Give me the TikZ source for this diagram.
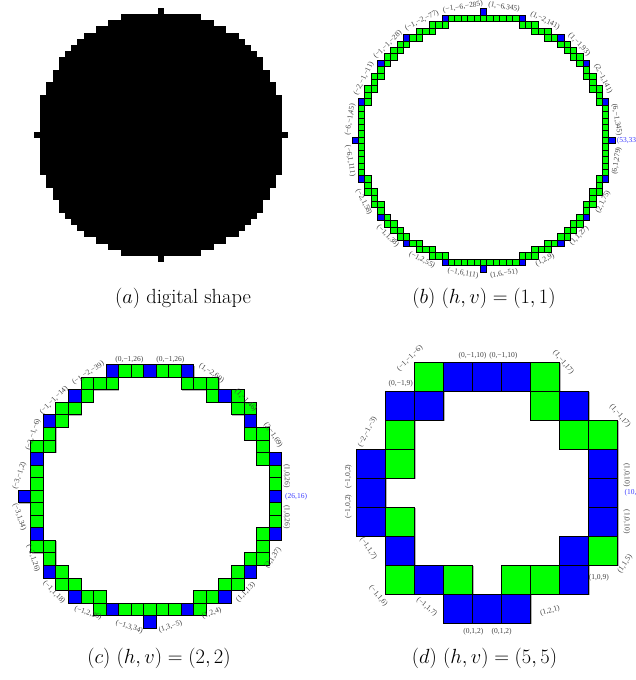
\RequirePackage{fix-cm}
\documentclass[tikz,border=0pt]{standalone}
\usepackage{fontspec}
\newfontfamily\labfont{Liberation Serif}
\usetikzlibrary{calc}
\definecolor{cg}{RGB}{0,255,0}
\definecolor{cb}{RGB}{0,0,255}
\definecolor{lb}{RGB}{60,60,255}
\newif\ifinside \newif\ifbd
\newcount\mycA \newcount\mycB \newcount\mycD \newcount\mycS \newcount\labcnt
% distance to centre (33) of a coarse cell #1 at scale #2
\def\mydist#1#2{\mycA=\numexpr(#2)*(#1)-33\relax \mycB=\numexpr\mycA+(#2)-1\relax
  \ifnum\mycA>0 \mycD=\mycA\else\ifnum\mycB<0 \mycD=-\mycB\else\mycD=0 \fi\fi}
\def\myisin#1#2#3{\mydist{#1}{#3}\mycS=\numexpr\mycD*\mycD\relax
  \mydist{#2}{#3}\advance\mycS by \numexpr\mycD*\mycD\relax
  \ifnum\mycS>400 \insidefalse\else\insidetrue\fi}
\def\myisbd#1#2#3{\bdfalse\myisin{#1}{#2}{#3}%
  \ifinside
    \myisin{#1-1}{#2-1}{#3}\ifinside\else\bdtrue\fi
    \myisin{#1-1}{#2}{#3}\ifinside\else\bdtrue\fi
    \myisin{#1-1}{#2+1}{#3}\ifinside\else\bdtrue\fi
    \myisin{#1}{#2-1}{#3}\ifinside\else\bdtrue\fi
    \myisin{#1}{#2+1}{#3}\ifinside\else\bdtrue\fi
    \myisin{#1+1}{#2-1}{#3}\ifinside\else\bdtrue\fi
    \myisin{#1+1}{#2}{#3}\ifinside\else\bdtrue\fi
    \myisin{#1+1}{#2+1}{#3}\ifinside\else\bdtrue\fi
  \fi}
\newcommand\bdcells[6]{%
  \foreach \ci in {#2,...,#3}{\foreach \cj in {#4,...,#5}{%
    \myisbd{\ci}{\cj}{#1}%
    \ifbd \path[#6] (\ci-0.5,\cj-0.5) rectangle (\ci+0.5,\cj+0.5);\fi}}}
\newcommand\seglab[6][]{%
  \global\advance\labcnt by 1
  \pgfmathsetmacro\mxa{(#2+#4)/2}%
  \pgfmathsetmacro\mya{(#3+#5)/2}%
  \pgfmathsetmacro\dxa{\mxa-\pcx}%
  \pgfmathsetmacro\dya{\mya-\pcy}%
  \pgfmathsetmacro\rra{sqrt(\dxa*\dxa+\dya*\dya)}%
  \pgfmathsetmacro\anga{atan2(#5-#3,#4-#2)}%
  \pgfmathsetmacro\anga{\anga>=89.9 ? \anga-180 : (\anga<-90.1 ? \anga+180 : \anga)}%
  \node[lab,rotate=\anga,#1] (lab\the\labcnt) at ({\mxa+\dxa/\rra*\poff},{\mya+\dya/\rra*\poff}) {#6};}
\tikzset{
  lab/.style={font=\labfont\fontsize{7.5}{8}\selectfont, text=black!75, inner sep=0pt},
  bluelab/.style={font=\labfont\fontsize{7.5}{8}\selectfont, text=lb, inner sep=0pt, anchor=west},
  captext/.style={font=\fontsize{20.5}{24}\selectfont, inner sep=0pt},
  gcell/.style={fill=cg, draw=black, line width=#1},
  bcell/.style={fill=cb, draw=black, line width=#1},
  shcell/.style={fill=black!30, xshift=#1, yshift=-#1},
}
\begin{document}
\begin{tikzpicture}[x=1pt,y=1pt]
\useasboundingbox (0,0) rectangle (636,680);
% (a) digital shape
\begin{scope}[shift={(161pt,545pt)},x=6.2pt,y=6.2pt]
  \foreach \yy in {-20,...,20}{
    \pgfmathtruncatemacro\hh{sqrt(400-(\yy)*(\yy)+0.01)}
    \fill (-\hh-0.5,\yy-0.52) rectangle (\hh+0.5,\yy+0.52);}
\end{scope}
\node[captext] (capa) at (183,382) {$(a)$ digital shape};
% (b)
\def\pcx{33}\def\pcy{33}\def\poff{1.28}
\begin{scope}[shift={(271.64pt,327.84pt)},x=6.42pt,y=6.42pt]
  \bdcells{1}{11}{55}{11}{55}{shcell=0.7pt}
  \bdcells{1}{11}{55}{11}{55}{gcell=0.5pt}
  \foreach \a/\b in {53/33,52/39,49/45,45/49,39/52,33/53,27/52,21/49,17/45,14/39,13/33,14/27,17/21,21/17,27/14,33/13,39/14,45/17,49/21,52/27}
    \path[bcell=0.5pt] (\a-0.5,\b-0.5) rectangle (\a+0.5,\b+0.5);
  \seglab{53}{33}{52}{39}{(6,−1,345)}
  \seglab{52}{39}{49}{45}{(2,−1,141)}
  \seglab{49}{45}{45}{49}{(1,−1,93)}
  \seglab{45}{49}{39}{52}{(1,−2,141)}
  \seglab{39}{52}{33}{53}{(1,−6,345)}
  \seglab{33}{53}{27}{52}{(−1,−6,−285)}
  \seglab{27}{52}{21}{49}{(−1,−2,−77)}
  \seglab{21}{49}{17}{45}{(−1,−1,−28)}
  \seglab{17}{45}{14}{39}{(−2,−1,−11)}
  \seglab{14}{39}{13}{33}{(−6,−1,45)}
  \seglab{13}{33}{14}{27}{(−6,1,111)}
  \seglab{14}{27}{17}{21}{(−2,1,58)}
  \seglab{17}{21}{21}{17}{(−1,1,38)}
  \seglab{21}{17}{27}{14}{(−1,2,55)}
  \seglab{27}{14}{33}{13}{(−1,6,111)}
  \seglab{33}{13}{39}{14}{(1,6,−51)}
  \seglab{39}{14}{45}{17}{(1,2,9)}
  \seglab{45}{17}{49}{21}{(1,1,27)}
  \seglab{49}{21}{52}{27}{(2,1,75)}
  \seglab{52}{27}{53}{33}{(6,1,279)}
  \node[bluelab,xshift=1.5pt] (startb) at (53.5,33) {(53,33)};
\end{scope}
\node[captext] (capb) at (484,382) {$(b)$ $(h,v)=(1,1)$};
% (c)
\def\pcx{16}\def\pcy{16}\def\poff{0.92}
\begin{scope}[shift={(-50.74pt,-17.04pt)},x=12.54pt,y=12.54pt]
  \bdcells{2}{5}{27}{5}{27}{shcell=0.9pt}
  \bdcells{2}{5}{27}{5}{27}{gcell=0.8pt}
  \foreach \a/\b in {26/16,26/19,24/22,22/24,19/26,16/26,13/26,10/24,8/22,7/19,6/16,7/13,8/10,10/8,13/7,16/6,19/7,22/8,24/10,26/13}
    \path[bcell=0.8pt] (\a-0.5,\b-0.5) rectangle (\a+0.5,\b+0.5);
  \seglab{26}{16}{26}{19}{(1,0,26)}
  \seglab{26}{19}{24}{22}{(2,−1,69)}
  \seglab{24}{22}{22}{24}{(1,−1,46)}
  \seglab{22}{24}{19}{26}{(1,−2,69)}
  \seglab{19}{26}{16}{26}{(0,−1,26)}
  \seglab{16}{26}{13}{26}{(0,−1,26)}
  \seglab{13}{26}{10}{24}{(−1,−2,−39)}
  \seglab{10}{24}{8}{22}{(−1,−1,−14)}
  \seglab{8}{22}{7}{19}{(−2,−1,−6)}
  \seglab{7}{19}{6}{16}{(−3,−1,2)}
  \seglab{6}{16}{7}{13}{(−3,1,34)}
  \seglab{7}{13}{8}{10}{(−2,1,26)}
  \seglab{8}{10}{10}{8}{(−1,1,18)}
  \seglab{10}{8}{13}{7}{(−1,2,26)}
  \seglab{13}{7}{16}{6}{(−1,3,34)}
  \seglab{16}{6}{19}{7}{(1,3,−5)}
  \seglab{19}{7}{22}{8}{(1,2,4)}
  \seglab{22}{8}{24}{10}{(1,1,13)}
  \seglab{24}{10}{26}{13}{(2,1,37)}
  \seglab{26}{13}{26}{16}{(1,0,26)}
  \node[bluelab,xshift=3.4pt] (startc) at (26.5,16) {(26,16)};
\end{scope}
\node[captext] (capc) at (159,22) {$(c)$ $(h,v)=(2,2)$};
% (d)
\begin{scope}[shift={(313pt,13.3pt)},x=29pt,y=29pt]
  \bdcells{5}{1}{11}{1}{11}{shcell=1.1pt}
  \bdcells{5}{1}{11}{1}{11}{gcell=1pt}
  \foreach \a/\b in {10/6,10/7,9/9,7/10,6/10,5/10,4/9,3/9,2/7,2/6,2/5,3/4,4/3,5/2,6/2,7/2,9/3,9/4,10/5}
    \path[bcell=1pt] (\a-0.5,\b-0.5) rectangle (\a+0.5,\b+0.5);
  \node[bluelab,xshift=7pt] (startd) at (10.5,6) {(10,6)};
\end{scope}
\node[lab,rotate=-90] (d1) at (626.7,205) {(1,0,10)};
\node[lab,rotate=-50] (d2) at (620,264.2) {(1,−1,17)};
\node[lab,rotate=-50] (d3) at (563.3,317.5) {(1,−1,17)};
\node[lab] (d4) at (503.3,324) {(0,−1,10)};
\node[lab] (d5) at (472.5,324) {(0,−1,10)};
\node[lab,rotate=45] (d6) at (410,321.7) {(−1,−1,−6)};
\node[lab] (d7) at (400.8,296) {(0,−1,9)};
\node[lab,rotate=63] (d8) at (367.5,248.3) {(−2,−1,−3)};
\node[lab,rotate=90] (d9) at (348.3,203.3) {(−1,0,2)};
\node[lab,rotate=90] (d10) at (348.3,173.3) {(−1,0,2)};
\node[lab,rotate=-55] (d11) at (368.3,131.7) {(−1,1,7)};
\node[lab,rotate=-50] (d12) at (378.3,84) {(−1,1,6)};
\node[lab,rotate=-40] (d13) at (426.7,73) {(−1,1,7)};
\node[lab] (d14) at (473.3,48.5) {(0,1,2)};
\node[lab] (d15) at (501.7,48.5) {(0,1,2)};
\node[lab,rotate=15] (d16) at (550,69) {(1,2,1)};
\node[lab] (d17) at (598.8,102.2) {(1,0,9)};
\node[lab,rotate=55] (d18) at (625,116) {(1,1,5)};
\node[lab,rotate=-90] (d19) at (626.7,158.3) {(1,0,10)};
\node[captext] (capd) at (484.5,22) {$(d)$ $(h,v)=(5,5)$};
\end{tikzpicture}
\end{document}
